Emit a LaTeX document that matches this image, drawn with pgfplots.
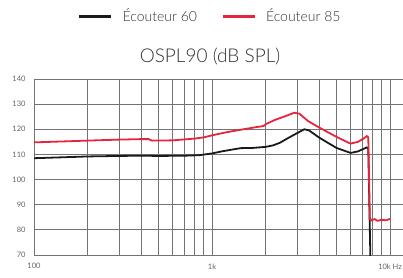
\documentclass[border=0pt]{standalone}
\usepackage{fontspec}
\setmainfont{Lato}
\newfontfamily\lightfont{Lato Light}
\usepackage{pgfplots}
\pgfplotsset{compat=1.18}
\definecolor{redc}{RGB}{232,36,60}
\definecolor{blk}{RGB}{26,26,26}
\definecolor{gridc}{RGB}{115,115,115}
\definecolor{tickc}{RGB}{100,100,100}
\definecolor{txtc}{RGB}{50,50,50}
\begin{document}
\begin{tikzpicture}
\useasboundingbox (0,0) rectangle (403pt,277pt);
\begin{axis}[
 at={(34pt,22pt)}, anchor=south west,
 scale only axis, width=369pt, height=176pt,
 xmode=log, xmin=100, xmax=11830, ymin=70, ymax=140,
 ytick={70,80,90,100,110,120,130,140},
 xtick={100,1000,10000}, xticklabels={100,1k,10k Hz},
 minor xtick={200,300,400,500,600,700,800,900,2000,3000,4000,5000,6000,7000,8000,9000},
 grid=both,
 major grid style={gridc, line width=0.8pt},
 minor grid style={gridc, line width=0.8pt},
 axis x line*=bottom, axis y line*=left,
 axis line style={gridc, line width=0.8pt, -},
 major tick length=0pt, minor tick length=0pt,
 tick label style={font=\fontsize{7.5}{8}\selectfont, text=tickc},
 /pgf/number format/assume math mode=true,
 yticklabel style={xshift=-5pt},
 xticklabel style={yshift=-5pt},
 title={OSPL90 (dB SPL)},
 title style={at={(0.477,1.061)}, anchor=base, font=\lightfont\fontsize{19}{21}\selectfont, text=txtc},
 legend columns=2,
 legend style={at={(0.477,1.358)}, anchor=center, draw=none, fill=none,
   font=\lightfont\fontsize{14}{16}\selectfont, text=txtc,
   /tikz/every odd column/.append style={column sep=8pt},
   /tikz/every even column/.append style={column sep=22pt}},
 legend image code/.code={\draw[line width=3pt] (0pt,0pt) -- (32pt,0pt);},
]
\addplot[blk, line width=1.8pt] coordinates {
(100,108.5) (150,108.9) (200,109.2) (300,109.4) (400,109.5) (500,109.4)
(700,109.5) (850,109.7) (1000,110.4) (1150,111.3) (1450,112.5) (1700,112.6)
(2000,113.0) (2200,113.6) (2400,114.6) (2800,117.3) (3300,120.0) (3500,119.6)
(4000,116.7) (5000,112.6) (6000,110.6) (6600,111.2) (7400,112.8) (7550,112.3)
(7800,60)
};
\addlegendentry{Écouteur 60}
\addplot[redc, line width=1.8pt] coordinates {
(100,114.8) (150,115.2) (200,115.5) (300,115.9) (400,116.1) (440,116.1)
(460,115.5) (600,115.6) (800,116.3) (900,116.8) (1000,117.6) (1200,118.8)
(1500,120.0) (1750,120.8) (1950,121.3) (2000,122.0) (2250,123.7) (2600,125.3)
(2900,126.6) (3100,126.2) (3460,123.3) (4000,120.7) (5000,117.0) (6000,114.3)
(6600,115.0) (7100,116.3) (7400,117.3) (7550,116.8) (7700,84.5) (7900,83.8)
(8200,84.3) (8500,83.6) (9000,84.0) (9500,83.8) (10000,84.4)
};
\addlegendentry{Écouteur 85}
\end{axis}
\end{tikzpicture}
\end{document}
